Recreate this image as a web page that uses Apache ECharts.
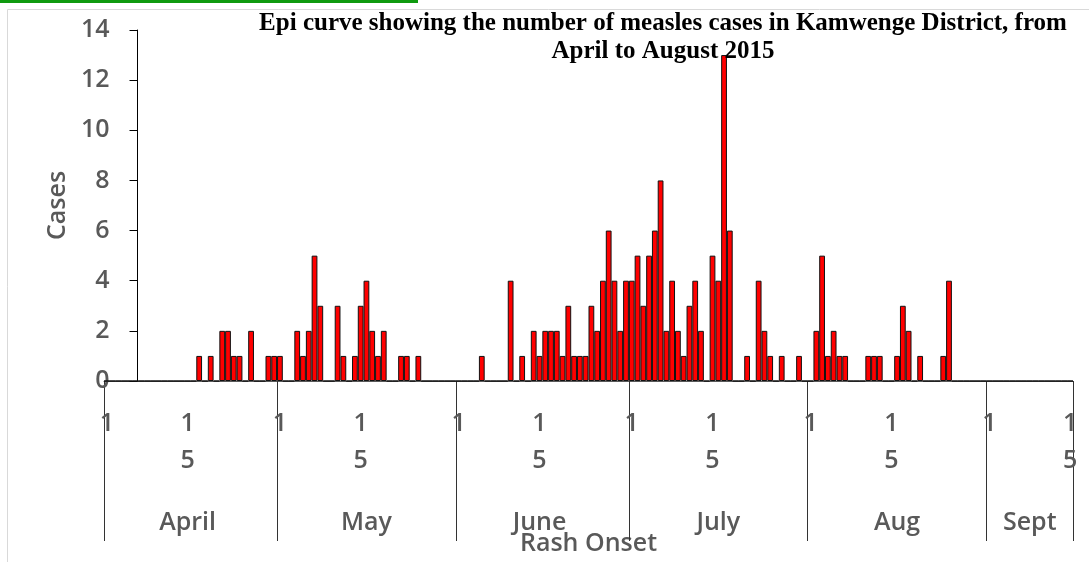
<!DOCTYPE html>
<html>
<head>
<meta charset="utf-8">
<script src="https://cdn.jsdelivr.net/npm/echarts@6/dist/echarts.min.js"></script>
<style>
  html, body { margin: 0; padding: 0; background: #fff; }
  #main { width: 1089px; height: 562px; }
</style>
</head>
<body>
<div id="main"></div>
<script>
// months shown on the axis and how many days of each are plotted
var monthNames = ['April', 'May', 'June', 'July', 'Aug', 'Sept'];
var monthShort = ['Apr', 'May', 'Jun', 'Jul', 'Aug', 'Sep'];
var monthDays = [30, 31, 30, 31, 31, 15];
// day numbers that get a tick label
var dayLabels = [1, 15];

// daily measles cases by rash onset date
var aprilCases = [0,0,0,0,0, 0,0,0,0,0, 0,0,0,0,0, 0,1,0,1,0, 2,2,1,1,0, 2,0,0,1,1];
var mayCases   = [1,0,0,2,1, 2,5,3,0,0, 3,1,0,1,3, 4,2,1,2,0, 0,1,1,0,1, 0,0,0,0,0, 0];
var juneCases  = [0,0,0,0,1, 0,0,0,0,4, 0,1,0,2,1, 2,2,2,1,3, 1,1,1,3,2, 4,6,4,2,4];
var julyCases  = [4,5,3,5,6, 8,2,4,2,1, 3,4,2,0,5, 4,13,6,0,0, 1,0,4,2,1, 0,1,0,0,1, 0];
var augCases   = [0,2,5,1,2, 1,1,0,0,0, 1,1,1,0,0, 1,3,2,0,1, 0,0,0,1,4, 0,0,0,0,0, 0];
var septCases  = [0,0,0,0,0, 0,0,0,0,0, 0,0,0,0,0];

var casesTicks = [0, 2, 4, 6, 8, 10, 12, 14];

var categories = [];
var dayOf = [];
for (var m = 0; m < monthDays.length; m++) {
    for (var d = 1; d <= monthDays[m]; d++) {
        categories.push(d + ' ' + monthShort[m]);
        dayOf.push(d);
    }
}
var cases = [].concat(aprilCases, mayCases, juneCases, julyCases, augCases, septCases);

// where each month name sits (roughly the middle of the month)
var monthLabelIdx = {};
(function () {
    var start = 0;
    for (var m = 0; m < monthDays.length; m++) {
        monthLabelIdx[start + Math.floor((monthDays[m] - 1) / 2)] = monthNames[m];
        start += monthDays[m];
    }
})();

var axisGray = '#595959';
var labelFont = '"Open Sans", Lato, sans-serif';
var labelWeight = 600;
var labelSize = 25;

var chart = echarts.init(document.getElementById('main'));
var option = {
    animation: false,
    graphic: [
        { type: 'rect', shape: { x: 0, y: 0, width: 418, height: 3 }, style: { fill: '#0f9a0f' }, z: 0 },
        { type: 'rect', shape: { x: 7.5, y: 9.5, width: 1100, height: 600 }, style: { fill: 'none', stroke: '#d9d9d9', lineWidth: 1 }, z: 0 }
    ],
    title: {
        text: 'Epi curve showing the number of measles cases in Kamwenge District, from\nApril to August 2015',
        left: 658,
        top: 5,
        textAlign: 'center',
        textStyle: {
            fontFamily: '"Liberation Serif", "Times New Roman", serif',
            fontWeight: 'bold',
            fontSize: 25,
            lineHeight: 28,
            color: '#000'
        }
    },
    grid: { left: 104, right: 16, top: 30, bottom: 181, containLabel: false },
    xAxis: [{
        type: 'category',
        data: categories,
        boundaryGap: true,
        name: 'Rash Onset',
        nameLocation: 'middle',
        nameGap: 150,
        nameTextStyle: { fontFamily: labelFont, fontWeight: labelWeight, fontSize: labelSize, color: axisGray },
        axisLine: { lineStyle: { color: axisGray, width: 1 } },
        axisTick: {
            show: true,
            length: 160,
            interval: function (idx) { return dayOf[idx] === 1; },
            lineStyle: { color: '#333', width: 1 }
        },
        axisLabel: {
            interval: function (idx) { return dayLabels.indexOf(dayOf[idx]) >= 0; },
            formatter: function (val, idx) {
                return String(dayOf[idx]).split('').join('\n');
            },
            margin: 24,
            fontFamily: labelFont,
            fontWeight: labelWeight,
            fontSize: labelSize,
            lineHeight: 37,
            color: axisGray
        },
        splitLine: { show: false }
    }, {
        type: 'category',
        data: categories,
        position: 'bottom',
        boundaryGap: true,
        axisLine: { show: false },
        axisTick: { show: false },
        axisLabel: {
            interval: function (idx) { return monthLabelIdx[idx] !== undefined; },
            formatter: function (val, idx) { return monthLabelIdx[idx]; },
            margin: 129,
            fontFamily: labelFont,
            fontWeight: labelWeight,
            fontSize: labelSize,
            color: axisGray
        }
    }],
    yAxis: {
        type: 'value',
        min: 0,
        max: casesTicks[casesTicks.length - 1],
        interval: casesTicks[1] - casesTicks[0],
        offset: -33.5,
        name: 'Cases',
        nameLocation: 'middle',
        nameGap: 66,
        nameTextStyle: { fontFamily: labelFont, fontWeight: labelWeight, fontSize: labelSize, color: axisGray },
        axisLine: { show: true, lineStyle: { color: '#000', width: 1 } },
        axisTick: { show: true, length: 8, lineStyle: { color: '#000' } },
        axisLabel: { margin: 28, fontFamily: labelFont, fontWeight: labelWeight, fontSize: labelSize, color: axisGray },
        splitLine: { show: false }
    },
    series: [{
        name: 'Cases',
        type: 'bar',
        xAxisIndex: 0,
        data: cases,
        barCategoryGap: '0%',
        itemStyle: { color: '#ff0000', borderColor: '#111', borderWidth: 1 }
    }]
};
chart.setOption(option);
</script>
</body>
</html>
